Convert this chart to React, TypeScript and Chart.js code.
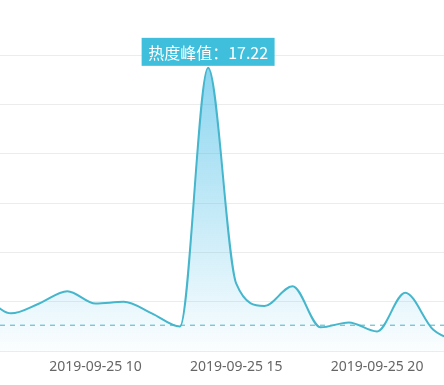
import React, { useEffect, useRef } from "react";
import { Chart, registerables } from "chart.js";

Chart.register(...registerables);

// ---- data ----
const hours = [6, 7, 8, 9, 10, 11, 12, 13, 14, 15, 16, 17, 18, 19, 20, 21, 22, 23];
const heatValues = [3.5, 2.3, 2.9, 3.65, 2.9, 3.0, 2.3, 1.5, 17.22, 4.1, 2.75, 3.95, 1.45, 1.75, 1.2, 3.55, 1.3, 0.5];
const xTickHours = [5, 10, 15, 20];
const datePrefix = "2019-09-25";
const yTickValues = [0, 3, 6, 9, 12, 15, 18];
const baselineValue = 1.58;
const peakLabelText = "热度峰值：";

const X_MIN = 2.345;
const X_MAX = 23.8;

const peakLabelPlugin = {
  id: "peakLabel",
  afterDatasetsDraw(chart: any) {
    const ds = chart.data.datasets[1];
    let maxI = 0;
    ds.data.forEach((p: any, i: number) => {
      if (p.y > ds.data[maxI].y) maxI = i;
    });
    const p = ds.data[maxI];
    const x = chart.scales.x.getPixelForValue(p.x);
    const y = chart.scales.y.getPixelForValue(p.y);
    const c = chart.ctx;
    const text = peakLabelText + p.y.toFixed(2);
    c.save();
    c.font = '16px "Noto Sans CJK SC", "Noto Sans", sans-serif';
    const tw = c.measureText(text).width;
    const w = tw + 13;
    const h = 28;
    const top = y - 2 - h;
    c.fillStyle = "#40bfdc";
    c.fillRect(x - w / 2, top, w, h);
    c.fillStyle = "#ffffff";
    c.textAlign = "center";
    c.textBaseline = "middle";
    c.fillText(text, x, top + h / 2 + 1);
    c.restore();
  },
};

export default function App() {
  const ref = useRef<HTMLCanvasElement | null>(null);
  useEffect(() => {
    if (!ref.current) return;
    const chart = new Chart(ref.current, {
      type: "line",
      data: {
        datasets: [
          {
            data: [
              { x: X_MIN, y: baselineValue },
              { x: X_MAX, y: baselineValue },
            ],
            borderColor: "#4ab3c8",
            borderWidth: 1,
            borderDash: [5, 5],
            pointRadius: 0,
            fill: false,
          },
          {
            data: hours.map((h, i) => ({ x: h, y: heatValues[i] })),
            borderColor: "#45b6cc",
            borderWidth: 2,
            pointRadius: 0,
            cubicInterpolationMode: "monotone",
            fill: "origin",
            backgroundColor: (ctx: any) => {
              const { chart } = ctx;
              const area = chart.chartArea;
              if (!area) return "rgba(60,185,230,0.3)";
              const g = chart.ctx.createLinearGradient(0, area.top, 0, area.bottom);
              g.addColorStop(0, "rgba(60,185,230,0.62)");
              g.addColorStop(1, "rgba(60,185,230,0.02)");
              return g;
            },
          },
        ],
      },
      options: {
        responsive: false,
        animation: false,
        layout: { padding: { top: 55, bottom: 3, left: 0, right: 0 } },
        plugins: { legend: { display: false }, tooltip: { enabled: false } },
        scales: {
          x: {
            type: "linear",
            min: X_MIN,
            max: X_MAX,
            afterBuildTicks: (scale: any) => {
              scale.ticks = xTickHours.map((v) => ({ value: v }));
            },
            ticks: {
              autoSkip: false,
              maxRotation: 0,
              padding: 7,
              color: "#666666",
              font: { family: '"Noto Sans", sans-serif', size: 14 },
              callback: (v: any) => `${datePrefix} ${v}`,
            },
            grid: { display: false, drawTicks: false },
            border: { display: false },
          },
          y: {
            min: 0,
            max: 18,
            afterBuildTicks: (scale: any) => {
              scale.ticks = yTickValues.map((v) => ({ value: v }));
            },
            ticks: { display: false },
            grid: { color: "#ececec", drawTicks: false, lineWidth: 1 },
            border: { display: false },
          },
        },
      },
      plugins: [peakLabelPlugin],
    });
    return () => chart.destroy();
  }, []);

  return (
    <div
      style={{
        position: "fixed",
        left: 0,
        top: 0,
        width: 444,
        height: 385,
        overflow: "hidden",
        background: "#ffffff",
      }}
    >
      <canvas
        ref={ref}
        width={604}
        height={385}
        style={{ position: "absolute", left: -120, top: 0 }}
      />
    </div>
  );
}
